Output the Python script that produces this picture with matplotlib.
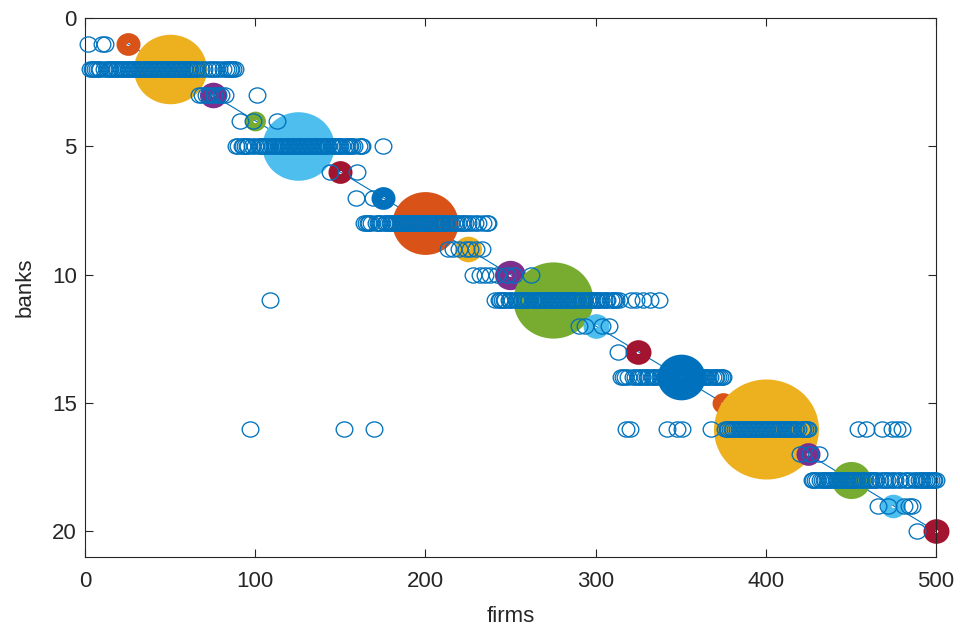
import numpy as np
import matplotlib
matplotlib.use("Agg")
import matplotlib.pyplot as plt
from matplotlib.path import Path
from matplotlib.transforms import Affine2D

# bank index and where each bank sits along the firm axis
banks = list(range(1, 21))
bank_pos = [25, 50, 75, 100, 125, 150, 175, 200, 225, 250,
            275, 300, 325, 350, 375, 400, 425, 450, 475, 500]
# relative bank size (drives circle area)
bank_size = [53, 489, 67, 40, 476, 53, 53, 400, 67, 88,
             588, 62, 62, 212, 44, 1012, 53, 140, 57, 62]

# contiguous blocks of firms lending from one bank: (bank, first firm, last firm)
bank_runs = [(2, 3, 88), (5, 89, 163), (8, 164, 237), (11, 241, 316),
             (14, 315, 375), (16, 376, 429), (18, 427, 500)]
# scattered firms (override the blocks above)
bank_firms = {
    1: [2, 10, 12],
    3: [67, 69, 71, 73, 76, 78, 80, 82, 101],
    4: [91, 99, 113],
    5: [175],
    6: [144, 160],
    7: [159, 169],
    9: [213, 216, 220, 224, 226, 230, 233],
    10: [228, 232, 235, 238, 242, 248, 252, 262],
    11: [109, 321, 324, 328, 332, 337],
    12: [290, 294, 304, 308],
    13: [313],
    16: [97, 152, 170, 318, 320, 342, 348, 351, 368,
         454, 459, 468, 474, 477, 480],
    17: [420, 426, 431],
    19: [466, 472, 481, 484, 486],
    20: [489],
}
n_firms = 500

firm_bank = np.full(n_firms, np.nan)
for b, first, last in bank_runs:
    firm_bank[first - 1:last] = b
for b, firms in bank_firms.items():
    firm_bank[np.array(firms) - 1] = b
firm_idx = np.arange(1, n_firms + 1)

colors = ["#0072BD", "#D95319", "#EDB120", "#7E2F8E",
          "#77AC30", "#4DBEEE", "#A2142F"]
ink = "#262626"

# slightly flattened circle marker
ell = Path.unit_circle().transformed(Affine2D().scale(1.0, 0.91))

plt.rcParams["font.family"] = ["Liberation Sans", "DejaVu Sans"]
fig = plt.figure(figsize=(9.6, 6.32), dpi=100)
ax = fig.add_axes([0.0885, 0.1187, 0.8865, 0.8528])

ax.plot(bank_pos, banks, "-", color=colors[0], lw=0.8, zorder=1)

px = 72 / 100
hole = 4.5 * px
for i, (x, b, s) in enumerate(zip(bank_pos, banks, bank_size)):
    d = 3.3 * np.sqrt(s) * px
    ax.plot([x], [b], linestyle="none", marker=ell,
            markersize=(d + hole) / 2, markeredgewidth=(d - hole) / 2,
            markerfacecolor="none", markeredgecolor=colors[(i + 1) % 7],
            clip_on=False, zorder=2)

ax.plot(firm_idx, firm_bank, linestyle="none", marker=ell, markersize=12,
        markerfacecolor="none", markeredgecolor=colors[0],
        markeredgewidth=0.95, clip_on=False, zorder=3)

ax.set_xlim(0, 500)
ax.set_ylim(21, 0)
ax.set_xticks([0, 100, 200, 300, 400, 500])
ax.set_yticks([0, 5, 10, 15, 20])
ax.tick_params(direction="in", length=5.5, width=0.8, colors=ink,
               labelsize=16, top=True, right=True)
ax.tick_params(axis="x", pad=10)
ax.tick_params(axis="y", pad=6)
for sp in ax.spines.values():
    sp.set_color(ink)
    sp.set_linewidth(0.8)
ax.set_xlabel("firms", fontsize=16, color=ink, labelpad=10)
ax.set_ylabel("banks", fontsize=16, color=ink, labelpad=12)

fig.savefig("out.png", dpi=100)
